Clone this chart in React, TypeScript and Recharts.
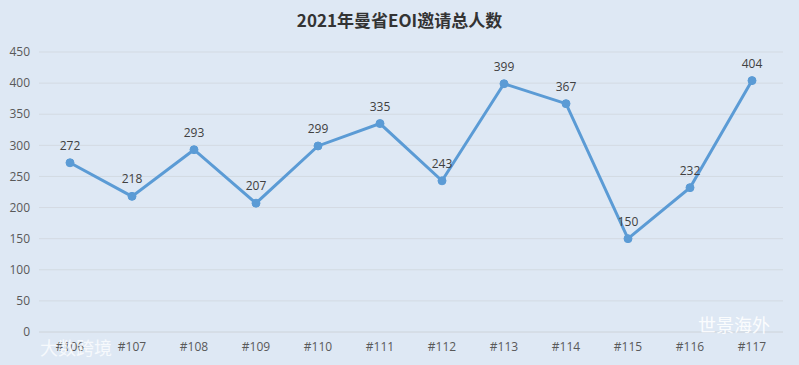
import { LineChart, Line, XAxis, YAxis, CartesianGrid, LabelList } from "recharts";

// EOI draw numbers and invitations per draw (2021)
const draws = ["#106", "#107", "#108", "#109", "#110", "#111", "#112", "#113", "#114", "#115", "#116", "#117"];
const invitations = [272, 218, 293, 207, 299, 335, 243, 399, 367, 150, 232, 404];
const yTicks = [0, 50, 100, 150, 200, 250, 300, 350, 400, 450];

const data = draws.map((draw, i) => ({ draw, value: invitations[i] }));

const tickStyle = { fill: "#595959", fontSize: 12, fontFamily: "'Open Sans', 'Noto Sans', sans-serif" };

export default function App() {
  return (
    <div
      style={{
        position: "absolute",
        top: 0,
        left: 0,
        width: 799,
        height: 365,
        background: "#dee8f4",
        overflow: "hidden",
      }}
    >
      <div
        style={{
          position: "absolute",
          top: 8,
          left: 0,
          width: 799,
          textAlign: "center",
          fontFamily: "'Noto Sans CJK SC', sans-serif",
          fontWeight: 700,
          fontSize: 17,
          color: "#333333",
          lineHeight: "24px",
        }}
      >
        2021年曼省EOI邀请总人数
      </div>
      <LineChart width={799} height={365} data={data} margin={{ top: 52, right: 16, bottom: 0, left: 0 }}>
        <CartesianGrid vertical={false} stroke="#d3dae2" />
        <XAxis
          dataKey="draw"
          height={33}
          padding={{ left: 31, right: 31 }}
          axisLine={{ stroke: "#d3dae2" }}
          tickLine={false}
          tickSize={0}
          tickMargin={10}
          tick={tickStyle}
          interval={0}
        />
        <YAxis
          width={39}
          domain={[0, 450]}
          ticks={yTicks}
          axisLine={false}
          tickLine={false}
          tickSize={0}
          tickMargin={9}
          tick={tickStyle}
        />
        <Line
          type="linear"
          dataKey="value"
          stroke="#5b9bd5"
          strokeWidth={3}
          dot={{ r: 4, fill: "#5b9bd5", stroke: "#5b9bd5", strokeWidth: 1 }}
          isAnimationActive={false}
        >
          <LabelList dataKey="value" position="top" offset={13} fill="#404040" fontSize={12} fontFamily="'Open Sans', 'Noto Sans', sans-serif" />
        </Line>
      </LineChart>
      <div
        style={{
          position: "absolute",
          left: 40,
          top: 334,
          fontFamily: "'Noto Sans CJK SC', sans-serif",
          fontSize: 18,
          color: "rgba(255,255,255,0.75)",
        }}
      >
        大数跨境
      </div>
      <div
        style={{
          position: "absolute",
          left: 698,
          top: 311,
          fontFamily: "'Noto Sans CJK SC', sans-serif",
          fontSize: 18,
          color: "rgba(255,255,255,0.9)",
        }}
      >
        世景海外
      </div>
    </div>
  );
}
